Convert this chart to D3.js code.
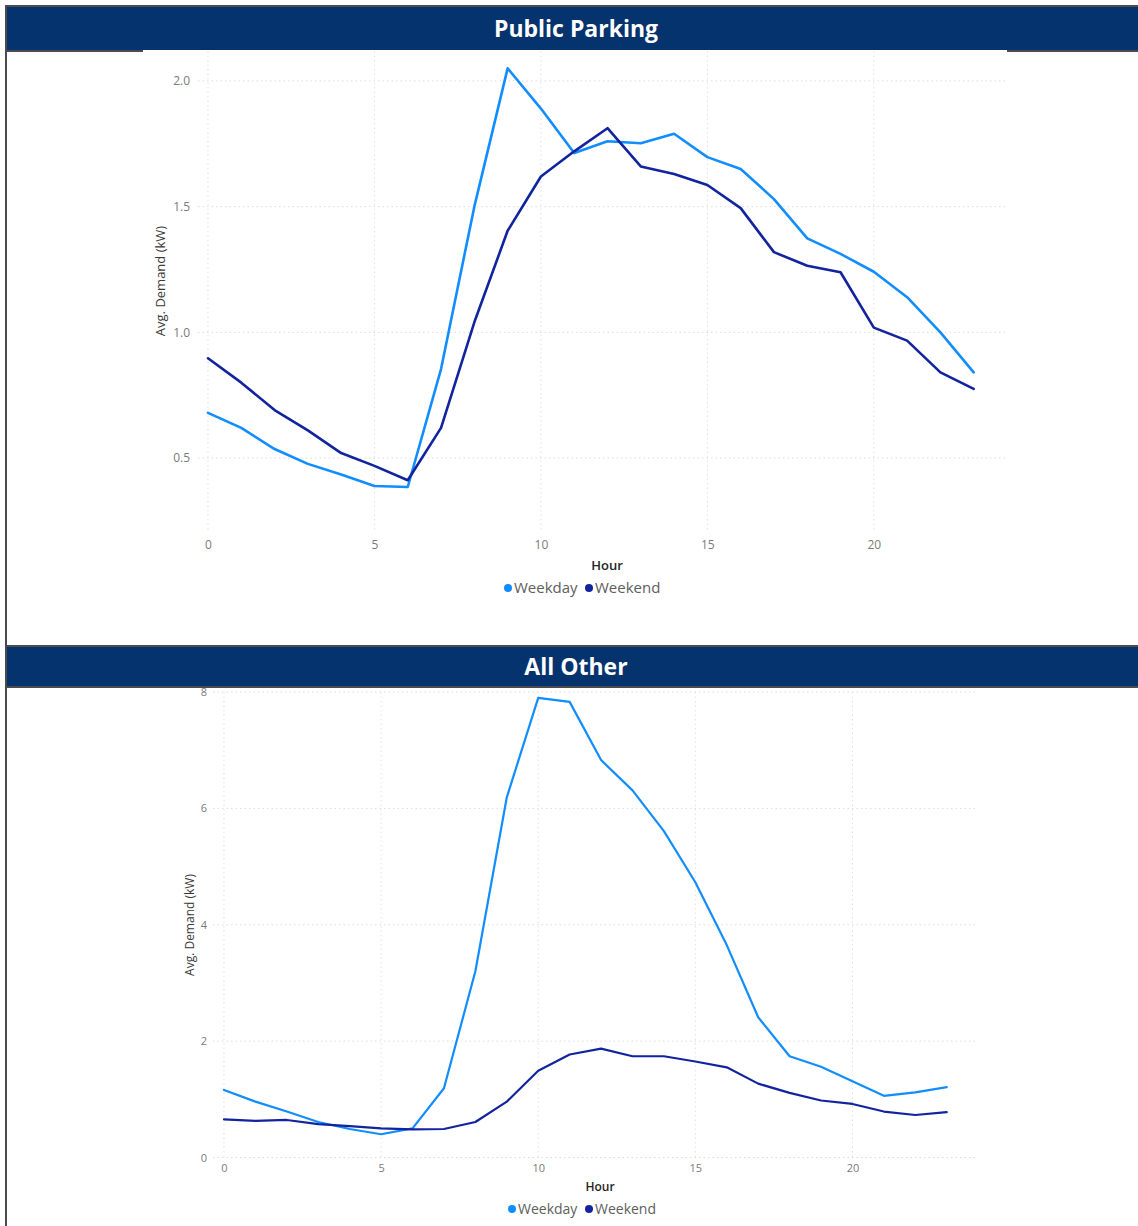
<!DOCTYPE html>
<html>
<head>
<meta charset="utf-8">
<script src="https://cdn.jsdelivr.net/npm/d3@7"></script>
<style>
  html, body { margin: 0; padding: 0; background: #fff; }
  svg { display: block; }
  text { font-family: "Open Sans", "Noto Sans", sans-serif; }
</style>
</head>
<body>
<svg id="chart" width="1138" height="1226"></svg>
<script>
// ---------- DATA ----------
const hours = d3.range(0, 24);
const seriesNames = ["Weekday", "Weekend"];

const parkingTitle = "Public Parking";
const parkingWeekday = [0.68, 0.62, 0.536, 0.477, 0.435, 0.389, 0.385, 0.854, 1.50, 2.05, 1.89, 1.713,
                        1.76, 1.752, 1.79, 1.697, 1.65, 1.53, 1.374, 1.312, 1.241, 1.14, 1.0, 0.841];
const parkingWeekend = [0.897, 0.80, 0.691, 0.61, 0.52, 0.469, 0.412, 0.62, 1.04, 1.404, 1.62, 1.72,
                        1.812, 1.66, 1.63, 1.586, 1.494, 1.319, 1.265, 1.239, 1.019, 0.967, 0.841, 0.775];
const parkingYTicks = [0.5, 1.0, 1.5, 2.0];

const otherTitle = "All Other";
const otherWeekday = [1.16, 0.96, 0.79, 0.61, 0.49, 0.40, 0.50, 1.19, 3.2, 6.19, 7.9, 7.83,
                      6.83, 6.31, 5.61, 4.73, 3.65, 2.41, 1.74, 1.56, 1.31, 1.06, 1.12, 1.21];
const otherWeekend = [0.656, 0.63, 0.645, 0.575, 0.54, 0.50, 0.485, 0.49, 0.61, 0.96, 1.49, 1.77,
                      1.87, 1.74, 1.74, 1.65, 1.55, 1.27, 1.11, 0.98, 0.92, 0.79, 0.73, 0.78];
const otherYTicks = [0, 2, 4, 6, 8];

const xTicks = [0, 5, 10, 15, 20];
const yAxisTitle = "Avg. Demand (kW)";
const xAxisTitle = "Hour";

// ---------- STYLE ----------
const colors = { Weekday: "#118DFF", Weekend: "#12239E" };
const headerBlue = "#05336E";
const borderGray = "#4b4b4f";

const svg = d3.select("#chart");

// outer frame
svg.append("rect").attr("x", 5).attr("y", 5).attr("width", 1133).attr("height", 2).attr("fill", borderGray);
svg.append("rect").attr("x", 5).attr("y", 5).attr("width", 2).attr("height", 1221).attr("fill", borderGray);

function header(y0, y1, title, fullBottom, bottomSegs) {
  svg.append("rect").attr("x", 7).attr("y", y0).attr("width", 1131).attr("height", y1 - y0).attr("fill", headerBlue);
  if (fullBottom) {
    svg.append("rect").attr("x", 5).attr("y", y1).attr("width", 1133).attr("height", 2).attr("fill", borderGray);
  } else {
    bottomSegs.forEach(s => svg.append("rect").attr("x", s[0]).attr("y", y1).attr("width", s[1] - s[0]).attr("height", 2).attr("fill", borderGray));
  }
  svg.append("text").attr("x", 576).attr("y", (y0 + y1) / 2).attr("dy", "0.36em")
    .attr("text-anchor", "middle").attr("fill", "#fff").attr("font-weight", 700)
    .attr("font-size", 23).text(title);
}

header(7, 50, parkingTitle, false, [[5, 143], [1007, 1138]]);
svg.append("rect").attr("x", 5).attr("y", 645).attr("width", 1133).attr("height", 2).attr("fill", borderGray);
header(647, 686, otherTitle, true, []);

function drawChart(cfg, weekday, weekend, yTicks, fmt) {
  const x = d3.scaleLinear().domain(cfg.xDomain).range([cfg.left, cfg.right]);
  const y = d3.scaleLinear().domain(cfg.yDomain).range([cfg.bottom, cfg.top]);
  const g = svg.append("g");

  // horizontal gridlines
  g.selectAll(".hg").data(yTicks).enter().append("line")
    .attr("x1", cfg.left).attr("x2", cfg.right)
    .attr("y1", d => y(d)).attr("y2", d => y(d))
    .attr("stroke", "#dcdcdc").attr("stroke-width", 1).attr("stroke-dasharray", "1.5,3");
  // vertical gridlines
  g.selectAll(".vg").data(xTicks).enter().append("line")
    .attr("x1", d => x(d)).attr("x2", d => x(d))
    .attr("y1", cfg.top).attr("y2", cfg.bottom)
    .attr("stroke", "#e2e2e2").attr("stroke-width", 1).attr("stroke-dasharray", "1.5,3");

  // y axis labels
  const yAxis = d3.axisLeft(y).tickValues(yTicks).tickFormat(fmt).tickSize(0).tickPadding(0);
  const ya = g.append("g").attr("transform", `translate(${cfg.yLabelX},0)`).call(yAxis);
  ya.select(".domain").remove();
  ya.selectAll("text").attr("fill", "#7a7a7a").attr("font-size", cfg.tickSize)
    .style("font-family", '"Open Sans", "Noto Sans", sans-serif');

  // x axis labels
  const xAxis = d3.axisBottom(x).tickValues(xTicks).tickFormat(d3.format("d")).tickSize(0).tickPadding(0);
  const xa = g.append("g").attr("transform", `translate(0,${cfg.xLabelY})`).call(xAxis);
  xa.select(".domain").remove();
  xa.selectAll("text").attr("fill", "#7a7a7a").attr("font-size", cfg.tickSize).attr("dy", "0.36em")
    .style("font-family", '"Open Sans", "Noto Sans", sans-serif');

  // axis titles
  g.append("text").attr("transform", `translate(${cfg.yTitleX},${cfg.yTitleY}) rotate(-90)`)
    .attr("text-anchor", "middle").attr("dy", "0.36em").attr("fill", "#3a3a3a")
    .attr("font-size", cfg.titleSize).text(yAxisTitle);
  g.append("text").attr("x", cfg.xTitleX).attr("y", cfg.xTitleY).attr("dy", "0.36em")
    .attr("text-anchor", "middle").attr("fill", "#252423").attr("font-weight", 600)
    .attr("font-size", cfg.titleSize).text(xAxisTitle);

  // lines
  const line = d3.line().x((d, i) => x(hours[i])).y(d => y(d));
  [["Weekday", weekday], ["Weekend", weekend]].forEach(([name, vals]) => {
    g.append("path").datum(vals).attr("d", line).attr("fill", "none")
      .attr("stroke", colors[name]).attr("stroke-width", cfg.lineWidth)
      .attr("stroke-linejoin", "round").attr("stroke-linecap", "round");
  });

  // legend
  seriesNames.forEach((name, i) => {
    const lx = cfg.legendX[i];
    g.append("circle").attr("cx", lx).attr("cy", cfg.legendY).attr("r", 4).attr("fill", colors[name]);
    g.append("text").attr("x", lx + 6).attr("y", cfg.legendY).attr("dy", "0.36em")
      .attr("fill", "#605E5C").attr("font-size", cfg.legendSize).text(name);
  });
}

drawChart({
  xDomain: [-0.3, 24.0], left: 198, right: 1007,
  yDomain: [0.214, 2.119], bottom: 530, top: 51,
  yLabelX: 190, xLabelY: 545, tickSize: 12, titleSize: 13,
  yTitleX: 160, yTitleY: 281, xTitleX: 607, xTitleY: 565,
  legendX: [508, 589], legendY: 588, legendSize: 15, lineWidth: 2.6
}, parkingWeekday, parkingWeekend, parkingYTicks, d3.format(".1f"));

drawChart({
  xDomain: [-0.35, 23.9], left: 213, right: 975,
  yDomain: [0, 8], bottom: 1157.5, top: 692,
  yLabelX: 207, xLabelY: 1168, tickSize: 11, titleSize: 12,
  yTitleX: 190, yTitleY: 925, xTitleX: 600, xTitleY: 1187,
  legendX: [512, 589], legendY: 1209, legendSize: 14, lineWidth: 2.2
}, otherWeekday, otherWeekend, otherYTicks, d3.format("d"));
</script>
</body>
</html>
